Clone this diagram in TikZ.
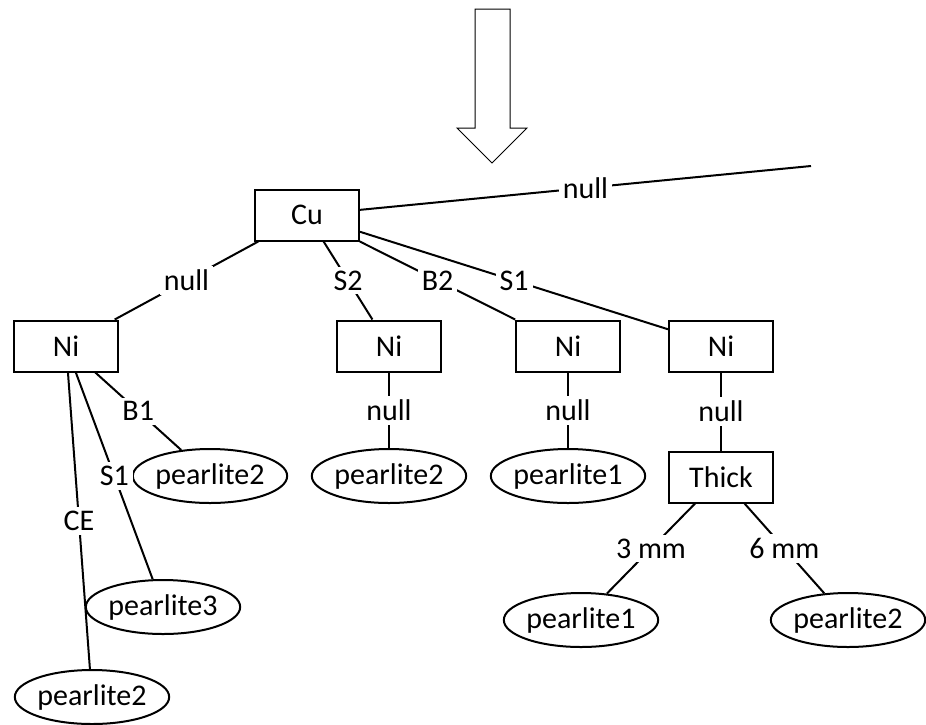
\documentclass[tikz,border=0pt]{standalone}
\usepackage{fontspec}
\setmainfont{Carlito}
\usetikzlibrary{shapes.geometric}

\tikzset{
  box/.style={draw, line width=1pt, minimum width=52pt, minimum height=25.5pt, inner sep=0pt},
  leaf/.style={draw, ellipse, line width=1pt, minimum width=77pt, minimum height=27pt, inner sep=0pt},
  lbl/.style={fill=white, inner sep=2pt},
  link/.style={line width=1pt}
}

\begin{document}
\begin{tikzpicture}[x=0.5pt, y=-0.5pt, font=\fontsize{15}{18}\selectfont]

% Picture frame
\useasboundingbox (0,0) rectangle (926,724);

% Big input arrow
\draw[line width=0.5pt] (475,9) -- (510,9) -- (510,128) -- (527,128) -- (492,163)
  -- (457,128) -- (475,128) -- cycle;

% Root
\node[box] (cu) at (307,215) {Cu};
\coordinate (free) at (811,166);

% Second level
\node[box] (ni1) at (66,346) {Ni};
\node[box] (ni2) at (389,346) {Ni};
\node[box] (ni3) at (568,346) {Ni};
\node[box] (ni4) at (721,346) {Ni};

% Leaves under first Ni
\node[leaf] (p1b) at (210,476) {pearlite2};
\node[leaf] (p1s) at (163,607) {pearlite3};
\node[leaf] (p1c) at (92,697) {pearlite2};

% Leaves under the other Ni
\node[leaf] (p2) at (389,476) {pearlite2};
\node[leaf] (p3) at (568,476) {pearlite1};
\node[box] (thick) at (721,477) {Thick};
\node[leaf] (t3) at (581,620) {pearlite1};
\node[leaf] (t6) at (848,620) {pearlite2};

% Edges from root
\draw[link] (cu) -- node[lbl] {null} (free);
\draw[link] (cu) -- node[lbl] {null} (ni1);
\draw[link] (cu) -- node[lbl] {S2} (ni2);
\draw[link] (cu) -- node[lbl] {B2} (ni3);
\draw[link] (cu) -- node[lbl] {S1} (ni4);

% Edges from first Ni
\draw[link] (ni1) -- node[lbl] {B1} (p1b);
\draw[link] (ni1) -- node[lbl] {S1} (p1s);
\draw[link] (ni1) -- node[lbl] {CE} (p1c);

% Edges from the other Ni
\draw[link] (ni2) -- node[lbl] {null} (p2);
\draw[link] (ni3) -- node[lbl] {null} (p3);
\draw[link] (ni4) -- node[lbl] {null} (thick);
\draw[link] (thick) -- node[lbl] {3 mm} (t3);
\draw[link] (thick) -- node[lbl] {6 mm} (t6);

\end{tikzpicture}
\end{document}
